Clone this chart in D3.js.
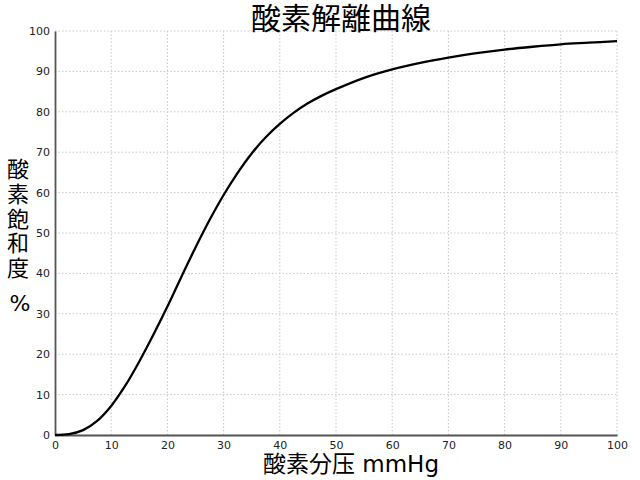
<!DOCTYPE html>
<html>
<head>
<meta charset="utf-8">
<script src="https://cdn.jsdelivr.net/npm/d3@7"></script>
<style>
  body { margin: 0; background: #fff; }
  svg text { font-family: "DejaVu Sans", sans-serif; }
  .cjk { font-family: "Noto Sans CJK JP", "Noto Sans CJK SC", sans-serif; }
</style>
</head>
<body>
<div id="chart"></div>
<script>
// 酸素分压 (mmHg) vs 酸素飽和度 (%)
var pressure   = [0, 2.5, 5, 7.5, 10, 12.5, 15, 17.5, 20, 22.5, 25, 27.5, 30, 32.5, 35, 37.5, 40, 42.5, 45, 47.5, 50, 55, 60, 65, 70, 75, 80, 85, 90, 95, 100];
var saturation = [0, 0.2, 1.2, 3.5, 7.2, 12.2, 18.2, 24.8, 31.8, 39.2, 46.4, 53.2, 59.4, 64.9, 69.7, 73.7, 77.0, 79.8, 82.1, 84.0, 85.6, 88.4, 90.5, 92.1, 93.4, 94.5, 95.4, 96.1, 96.7, 97.1, 97.5];
var xTicks = [0, 10, 20, 30, 40, 50, 60, 70, 80, 90, 100];
var yTicks = [0, 10, 20, 30, 40, 50, 60, 70, 80, 90, 100];
var title = "酸素解離曲線";
var xLabel = ["酸素分压", " mmHg"];
var yLabelChars = ["酸", "素", "飽", "和", "度"];
var yLabelUnit = "%";

var W = 640, H = 480;
var margin = {top: 31, right: 23, bottom: 45, left: 55},
    width = W - margin.left - margin.right,
    height = H - margin.top - margin.bottom;

var data = pressure.map(function(p, i) { return {p: p, s: saturation[i]}; });

var x = d3.scaleLinear().domain([0, 100]).range([0, width]);
var y = d3.scaleLinear().domain([0, 100]).range([height, 0]);

var svg = d3.select("#chart").append("svg")
    .attr("width", W)
    .attr("height", H);

var g = svg.append("g")
    .attr("transform", "translate(" + margin.left + "," + margin.top + ")");

// dotted grid
g.append("g")
    .selectAll("line")
    .data(xTicks.filter(function(d) { return d > 0; }))
    .enter().append("line")
    .attr("x1", function(d) { return x(d); })
    .attr("x2", function(d) { return x(d); })
    .attr("y1", 0).attr("y2", height)
    .attr("stroke", "#c8c8c8")
    .attr("stroke-width", 1)
    .attr("stroke-dasharray", "1.5,2");

g.append("g")
    .selectAll("line")
    .data(yTicks.filter(function(d) { return d > 0; }))
    .enter().append("line")
    .attr("x1", 0).attr("x2", width)
    .attr("y1", function(d) { return y(d); })
    .attr("y2", function(d) { return y(d); })
    .attr("stroke", "#c8c8c8")
    .attr("stroke-width", 1)
    .attr("stroke-dasharray", "1.5,2");

// axes (left and bottom spines only)
var xAxis = d3.axisBottom(x).tickValues(xTicks).tickSize(0).tickPadding(6);
var yAxis = d3.axisLeft(y).tickValues(yTicks).tickSize(0).tickPadding(5);

var gx = g.append("g")
    .attr("transform", "translate(0," + height + ")")
    .call(xAxis);
var gy = g.append("g").call(yAxis);

[gx, gy].forEach(function(a) {
  a.select(".domain").attr("stroke", "#555").attr("stroke-width", 1.8);
  a.selectAll("text")
      .attr("fill", "#222")
      .style("font-size", "11px")
      .style("font-family", "DejaVu Sans, sans-serif");
});

// curve
var line = d3.line()
    .x(function(d) { return x(d.p); })
    .y(function(d) { return y(d.s); })
    .curve(d3.curveCatmullRom.alpha(0.5));

g.append("path")
    .datum(data)
    .attr("fill", "none")
    .attr("stroke", "#000")
    .attr("stroke-width", 2.3)
    .attr("d", line);

// title
svg.append("text")
    .attr("class", "cjk")
    .attr("x", 341)
    .attr("y", 29)
    .attr("text-anchor", "middle")
    .style("font-size", "30px")
    .attr("fill", "#000")
    .text(title);

// x label
var xl = svg.append("text")
    .attr("x", 351)
    .attr("y", 472)
    .attr("text-anchor", "middle")
    .style("font-size", "23px")
    .attr("fill", "#000");
xl.append("tspan").attr("class", "cjk").text(xLabel[0]);
xl.append("tspan").style("font-family", "DejaVu Sans, sans-serif").text(xLabel[1]);

// y label, stacked vertically
var yl = svg.append("text")
    .attr("class", "cjk")
    .attr("text-anchor", "middle")
    .style("font-size", "22px")
    .attr("fill", "#000");

yLabelChars.forEach(function(c, i) {
  yl.append("tspan")
      .attr("x", 18)
      .attr("y", 177 + i * 24.8)
      .text(c);
});
yl.append("tspan")
    .attr("x", 20)
    .attr("y", 311)
    .style("font-family", "DejaVu Sans, sans-serif")
    .text(yLabelUnit);
</script>
</body>
</html>
